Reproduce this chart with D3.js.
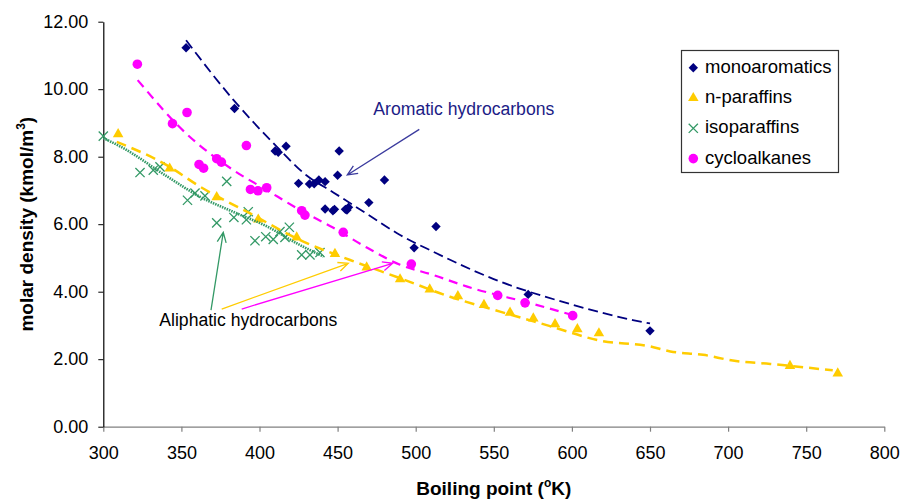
<!DOCTYPE html>
<html>
<head>
<meta charset="utf-8">
<script src="https://cdn.jsdelivr.net/npm/d3@7"></script>
<style>
  html, body { margin: 0; padding: 0; background: #fff; }
  svg { display: block; font-family: "Liberation Sans", Arial, sans-serif; }
</style>
</head>
<body>
<svg id="chart" width="902" height="499"></svg>
<script>
(function (d3) {
  'use strict';

  // axis ticks
  var xTicks = [300, 350, 400, 450, 500, 550, 600, 650, 700, 750, 800];
  var yTicks = [0, 2, 4, 6, 8, 10, 12];

  // [boiling point K, molar density kmol/m3]
  var monoaromatics = [
    [353, 11.23], [384, 9.43], [410, 8.17], [412, 8.13], [417, 8.31], [451, 8.17],
    [425, 7.21], [432, 7.19], [435, 7.20], [438, 7.31], [442, 7.26], [450, 7.45],
    [480, 7.31], [442, 6.45], [447, 6.40], [448, 6.44], [455, 6.44], [457, 6.50],
    [456, 6.42], [470, 6.64], [513, 5.93], [499, 5.30], [572, 3.92], [650, 2.84]
  ];
  var nParaffins = [
    [309.5, 8.67], [342.5, 7.65], [372.6, 6.80], [399.2, 6.14], [423.8, 5.61],
    [448.3, 5.12], [468.6, 4.72], [490, 4.37], [509, 4.07], [527, 3.87],
    [543.7, 3.61], [560.4, 3.38], [575.3, 3.21], [589.2, 3.04], [603.5, 2.89],
    [617.3, 2.77], [739.6, 1.80], [770.2, 1.58]
  ];
  var isoparaffins = [
    [300, 8.61], [323.5, 7.53], [332, 7.60], [336.3, 7.70], [379, 7.27],
    [353.9, 6.71], [358.7, 6.92], [365.1, 6.84], [372.6, 6.04], [383.6, 6.20],
    [391.6, 6.13], [392.8, 6.37], [397.1, 5.51], [404, 5.63], [408.8, 5.55],
    [413.1, 5.78], [416.3, 5.61], [419.1, 5.91], [427, 5.09], [432.3, 5.09],
    [438.7, 5.16]
  ];
  var cycloalkanes = [
    [321.8, 10.74], [344.3, 8.98], [353.6, 9.31], [391.6, 8.33], [361.3, 7.77],
    [364.2, 7.66], [372.6, 7.94], [375.6, 7.84], [394.2, 7.03], [399, 6.99],
    [404.6, 7.08], [427, 6.40], [429.1, 6.27], [453.6, 5.76], [497.2, 4.82],
    [552.5, 3.89], [570, 3.67], [600.5, 3.29]
  ];

  // trend lines as drawn in the figure
  var monoTrend = [
    [353, 11.45], [383, 9.7], [411, 8.3], [430, 7.45], [447, 6.95], [469, 6.3],
    [490, 5.68], [511, 5.19], [554, 4.3], [597, 3.66], [639, 3.16], [650, 3.06]
  ];
  var nParTrend = [
    [308.6, 8.44], [340.6, 7.75], [362, 7.11], [394, 6.32], [426, 5.53], [458, 4.94],
    [490, 4.40], [522, 3.85], [554, 3.41], [586, 2.98], [618, 2.55], [650, 2.38],
    [663, 2.23], [684, 2.13], [703, 1.96], [727, 1.86], [740, 1.80], [767, 1.67]
  ];
  var isoTrend = [
    [300, 8.55], [311, 8.30], [341, 7.41], [362, 6.81], [383, 6.37], [405, 5.93],
    [426, 5.38], [441, 5.04]
  ];
  var cycloTrend = [
    [322, 10.27], [353, 8.69], [383, 7.61], [405, 7.0], [426, 6.42], [447, 5.9],
    [469, 5.3], [490, 4.8], [511, 4.5], [533, 4.15], [575, 3.64], [601, 3.30]
  ];

  var seriesNames = ['monoaromatics', 'n-paraffins', 'isoparaffins', 'cycloalkanes'];
  var seriesColors = ['#000080', '#ffcc00', '#339966', '#ff00ff'];

  var svg = d3.select('#chart');
  var margin = {left: 103.3, top: 21.7, right: 17.7, bottom: 72.3};
  var W = 902, H = 499;

  var x = d3.scaleLinear().domain([300, 800]).range([margin.left, W - margin.right]);
  var y = d3.scaleLinear().domain([0, 12]).range([H - margin.bottom, margin.top]);

  // axes
  var xAxis = d3.axisBottom(x).tickValues(xTicks).tickSize(5).tickSizeOuter(0).tickPadding(15);
  var yAxis = d3.axisLeft(y).tickValues(yTicks).tickFormat(d3.format('.2f'))
    .tickSize(5).tickSizeOuter(0).tickPadding(10);

  var gx = svg.append('g').attr('transform', 'translate(0,' + y(0) + ')').call(xAxis);
  gx.select('.domain').attr('stroke', '#808080').attr('stroke-width', 1.3);
  gx.selectAll('.tick line').attr('stroke', '#808080').attr('stroke-width', 1.2);
  var gy = svg.append('g').attr('transform', 'translate(' + x(300) + ',0)').call(yAxis);
  gy.select('.domain').attr('stroke', '#000').attr('stroke-width', 1.2);
  gy.selectAll('.tick line').attr('stroke', '#000');
  svg.selectAll('.tick text').attr('font-size', 18).attr('fill', '#000')
    .attr('font-family', '"Liberation Sans", Arial, sans-serif');

  // axis titles
  var xt = svg.append('text').attr('x', (x(300) + x(800)) / 2).attr('y', 495)
    .attr('text-anchor', 'middle').attr('font-size', 19).attr('font-weight', 'bold');
  xt.append('tspan').text('Boiling point (');
  xt.append('tspan').attr('font-size', 12).attr('dy', -8).text('o');
  xt.append('tspan').attr('dy', 8).text('K)');

  var yt = svg.append('text')
    .attr('transform', 'translate(33,' + (y(0) + y(12)) / 2 + ') rotate(-90)')
    .attr('text-anchor', 'middle').attr('font-size', 19).attr('font-weight', 'bold');
  yt.append('tspan').text('molar density (kmol/m');
  yt.append('tspan').attr('font-size', 12).attr('dy', -8).text('3');
  yt.append('tspan').attr('dy', 8).text(')');

  // markers
  function drawMarker(g, kind, cx, cy) {
    var color = seriesColors[kind];
    if (kind === 0) {
      g.append('path').attr('d', d3.symbol(d3.symbolSquare, 44)())
        .attr('transform', 'translate(' + cx + ',' + cy + ') rotate(45)').attr('fill', color);
    } else if (kind === 1) {
      g.append('path').attr('d', d3.symbol(d3.symbolTriangle, 48)())
        .attr('transform', 'translate(' + cx + ',' + cy + ')').attr('fill', color);
    } else if (kind === 2) {
      var r = 4.6;
      g.append('path')
        .attr('d', 'M' + (cx - r) + ',' + (cy - r) + 'L' + (cx + r) + ',' + (cy + r) +
          'M' + (cx - r) + ',' + (cy + r) + 'L' + (cx + r) + ',' + (cy - r))
        .attr('stroke', color).attr('stroke-width', 1.3).attr('fill', 'none');
    } else {
      g.append('circle').attr('cx', cx).attr('cy', cy).attr('r', 4.8).attr('fill', color);
    }
  }

  var line = d3.line().x(function (d) { return x(d[0]); }).y(function (d) { return y(d[1]); })
    .curve(d3.curveMonotoneX);

  var trends = [monoTrend, nParTrend, isoTrend, cycloTrend];
  var dashes = ['10,5', '10,6', '1.5,1', '9,6'];
  var widths = [1.8, 2.5, 2.6, 2.2];

  var pts = svg.append('g');
  [monoaromatics, nParaffins, isoparaffins, cycloalkanes].forEach(function (data, k) {
    data.forEach(function (d) { drawMarker(pts, k, x(d[0]), y(d[1])); });
  });

  trends.forEach(function (t, k) {
    svg.append('path').datum(t).attr('d', line).attr('fill', 'none')
      .attr('stroke', seriesColors[k]).attr('stroke-width', widths[k])
      .attr('stroke-dasharray', dashes[k]);
  });

  // annotations
  function arrow(from, to, color) {
    var x1 = x(from[0]), y1 = y(from[1]), x2 = x(to[0]), y2 = y(to[1]);
    var a = Math.atan2(y2 - y1, x2 - x1), L = 11, s = 0.42;
    var p = d3.path();
    p.moveTo(x1, y1); p.lineTo(x2, y2);
    p.moveTo(x2 - L * Math.cos(a - s), y2 - L * Math.sin(a - s));
    p.lineTo(x2, y2);
    p.lineTo(x2 - L * Math.cos(a + s), y2 - L * Math.sin(a + s));
    svg.append('path').attr('d', p.toString()).attr('fill', 'none')
      .attr('stroke', color).attr('stroke-width', 1.3);
  }

  svg.append('text').attr('x', x(472.9)).attr('y', y(9.236)).attr('font-size', 17.6)
    .attr('fill', '#1c1c86').text('Aromatic hydrocarbons');
  arrow([502.3, 8.81], [456.2, 7.458], '#3b3b9e');

  svg.append('text').attr('x', x(335.85)).attr('y', y(2.984)).attr('font-size', 17.6)
    .attr('fill', '#000').text('Aliphatic hydrocarbons');
  arrow([368.95, 3.457], [376.8, 5.76], '#339966');
  arrow([375.8, 3.487], [456.85, 4.841], '#ffcc00');
  arrow([388.6, 3.487], [485.3, 4.841], '#ff00ff');

  // legend
  var lg = svg.append('g');
  lg.append('rect').attr('x', 681.5).attr('y', 50.5).attr('width', 157).attr('height', 122)
    .attr('fill', '#fff').attr('stroke', '#333').attr('stroke-width', 1.2);
  seriesNames.forEach(function (name, k) {
    var base = 72.7 + k * 30.3;
    drawMarker(lg, k, 693.3, base - 5);
    lg.append('text').attr('x', 705).attr('y', base).attr('font-size', 18.5)
      .attr('fill', '#000').text(name);
  });
})(d3);
</script>
</body>
</html>
